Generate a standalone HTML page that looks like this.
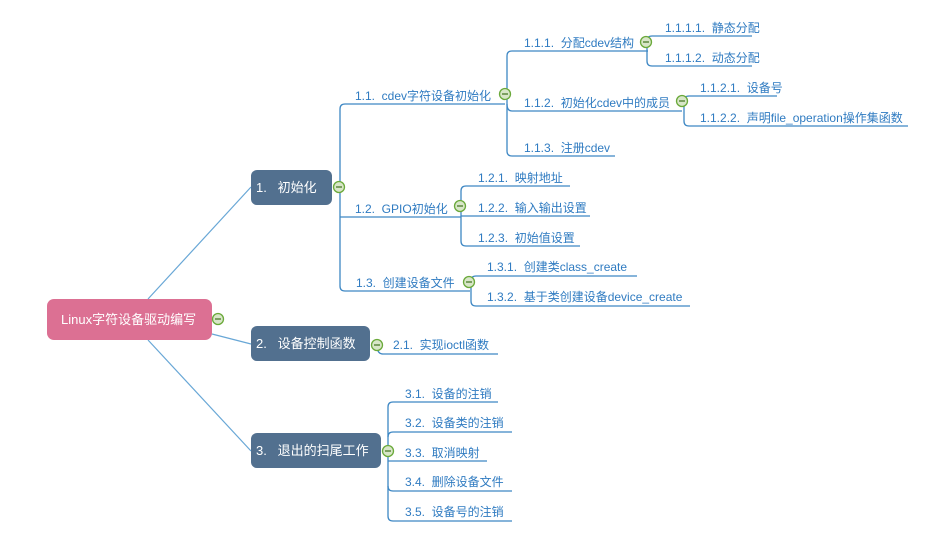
<!DOCTYPE html>
<html><head><meta charset="utf-8"><style>
html,body{margin:0;padding:0;background:#fff;}
svg{display:block;}
text{font-family:"Liberation Sans","Noto Sans CJK SC",sans-serif;font-size:12px;fill:#2f7bc1;white-space:pre;}
.w{fill:#fff;font-size:13px;}
</style></head><body>
<svg width="926" height="542" xmlns="http://www.w3.org/2000/svg" xml:space="preserve">
<defs>
<g id="c"><circle r="5.5" fill="#d8e6c8" stroke="#6aa93a" stroke-width="1.3"/><line x1="-3" y1="0" x2="3" y2="0" stroke="#4c7a2a" stroke-width="1.3"/></g>
</defs>
<g stroke="#68a7d6" stroke-width="1.2" fill="none">
<line x1="148" y1="299" x2="251" y2="187"/>
<line x1="212" y1="334" x2="251" y2="344"/>
<line x1="148" y1="340" x2="251" y2="451"/>
</g>
<g stroke="#3d87c4" stroke-width="1.3" fill="none">
<path d="M505 104 H345 Q340 104 340 109 V286 Q340 291 345 291 H470"/>
<path d="M340 217 H461"/>
<path d="M648 51 H512 Q507 51 507 56 V151 Q507 156 512 156 H615"/>
<path d="M507 104 Q507 111 512 111 H682"/>
<path d="M665 36 H752 M665 36 H652 Q647 36 647 41 V61 Q647 66 652 66 H752"/>
<path d="M777 96 H689 Q684 96 684 101 V121 Q684 126 689 126 H908"/>
<path d="M570 186 H466 Q461 186 461 191 V241 Q461 246 466 246 H580"/>
<path d="M461 216 H590"/>
<path d="M637 276 H476 Q471 276 471 281 V301 Q471 306 476 306 H690"/>
<path d="M377 345 Q377 354 383 354 H498"/>
<path d="M498 402 H393 Q388 402 388 407 V516 Q388 521 393 521 H512"/>
<path d="M388 437 Q388 432 393 432 H512"/>
<path d="M388 461 H487"/>
<path d="M388 486 Q388 491 393 491 H512"/>
</g>
<rect x="47" y="299" width="165" height="41" rx="7" fill="#dc7093"/>
<text class="w" x="61" y="324">Linux字符设备驱动编写</text>
<rect x="251" y="170" width="81" height="35" rx="6" fill="#52708f"/>
<text class="w" x="256" y="192">1.   初始化</text>
<rect x="251" y="326" width="119" height="35" rx="6" fill="#52708f"/>
<text class="w" x="256" y="348">2.   设备控制函数</text>
<rect x="251" y="433" width="130" height="35" rx="6" fill="#52708f"/>
<text class="w" x="256" y="455">3.   退出的扫尾工作</text>
<use href="#c" x="218" y="319"/>
<use href="#c" x="339" y="187"/>
<use href="#c" x="377" y="345"/>
<use href="#c" x="388" y="451"/>
<use href="#c" x="505" y="94"/>
<use href="#c" x="460" y="206"/>
<use href="#c" x="469" y="282"/>
<use href="#c" x="646" y="42"/>
<use href="#c" x="682" y="101"/>
<text x="355" y="100">1.1.  cdev字符设备初始化</text>
<text x="355" y="213">1.2.  GPIO初始化</text>
<text x="356" y="287">1.3.  创建设备文件</text>
<text x="524" y="47">1.1.1.  分配cdev结构</text>
<text x="524" y="107">1.1.2.  初始化cdev中的成员</text>
<text x="524" y="152">1.1.3.  注册cdev</text>
<text x="665" y="32">1.1.1.1.  静态分配</text>
<text x="665" y="62">1.1.1.2.  动态分配</text>
<text x="700" y="92">1.1.2.1.  设备号</text>
<text x="700" y="122">1.1.2.2.  声明file_operation操作集函数</text>
<text x="478" y="182">1.2.1.  映射地址</text>
<text x="478" y="212">1.2.2.  输入输出设置</text>
<text x="478" y="242">1.2.3.  初始值设置</text>
<text x="487" y="271">1.3.1.  创建类class_create</text>
<text x="487" y="301">1.3.2.  基于类创建设备device_create</text>
<text x="393" y="349">2.1.  实现ioctl函数</text>
<text x="405" y="398">3.1.  设备的注销</text>
<text x="405" y="427">3.2.  设备类的注销</text>
<text x="405" y="457">3.3.  取消映射</text>
<text x="405" y="486">3.4.  删除设备文件</text>
<text x="405" y="516">3.5.  设备号的注销</text>
</svg>
</body></html>
